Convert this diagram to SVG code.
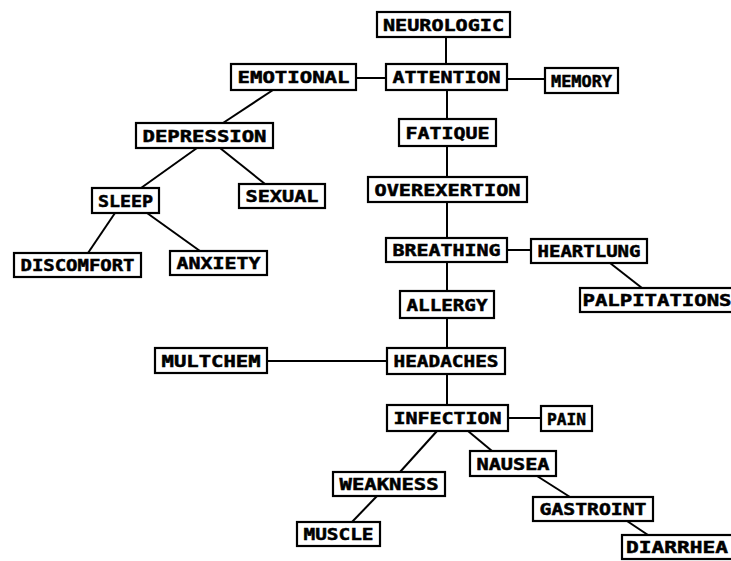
<svg xmlns="http://www.w3.org/2000/svg" width="731" height="561" viewBox="0 0 731 561">
<style>
.b{fill:#fff;stroke:#000;stroke-width:2.2}
.t{font-family:"DejaVu Sans Mono","Liberation Mono",monospace;font-weight:bold;font-size:16px;fill:#000;stroke:#000;stroke-width:0.5;text-anchor:middle}
.c line{stroke:#000;stroke-width:2}
</style>
<rect width="731" height="561" fill="#fff"/>
<g id="connectors" class="c">
<line x1="446" y1="37" x2="446" y2="64"/>
<line x1="356" y1="78" x2="386" y2="78"/>
<line x1="507" y1="79" x2="545" y2="79"/>
<line x1="447" y1="90" x2="447" y2="119"/>
<line x1="447" y1="146" x2="447" y2="177"/>
<line x1="447" y1="202" x2="447" y2="238"/>
<line x1="507" y1="250" x2="531" y2="250"/>
<line x1="447" y1="262" x2="447" y2="291"/>
<line x1="447" y1="318" x2="447" y2="348"/>
<line x1="267" y1="361" x2="387" y2="361"/>
<line x1="447" y1="374" x2="447" y2="405"/>
<line x1="508" y1="418" x2="541" y2="418"/>
<line x1="273" y1="90" x2="223" y2="123"/>
<line x1="197" y1="148" x2="141" y2="188"/>
<line x1="220" y1="148" x2="265" y2="184"/>
<line x1="115" y1="213" x2="88" y2="253"/>
<line x1="147" y1="213" x2="200" y2="251"/>
<line x1="610" y1="263" x2="642" y2="288"/>
<line x1="437" y1="431" x2="400" y2="472"/>
<line x1="468" y1="431" x2="492" y2="451"/>
<line x1="377" y1="496" x2="352" y2="522"/>
<line x1="537" y1="476" x2="570" y2="497"/>
<line x1="627" y1="521" x2="648" y2="535"/>
</g>
<g id="neurologic"><rect class="b" x="377" y="12" width="133" height="25"/><text class="t" x="443.5" y="30.5" textLength="121" lengthAdjust="spacingAndGlyphs">NEUROLOGIC</text></g>
<g id="attention"><rect class="b" x="386" y="64" width="121" height="26"/><text class="t" x="446.5" y="83" textLength="108" lengthAdjust="spacingAndGlyphs">ATTENTION</text></g>
<g id="emotional"><rect class="b" x="231" y="64" width="125" height="26"/><text class="t" x="293.5" y="83" textLength="112" lengthAdjust="spacingAndGlyphs">EMOTIONAL</text></g>
<g id="memory"><rect class="b" x="545" y="68" width="73" height="25"/><text class="t" x="581.5" y="86.5" textLength="61" lengthAdjust="spacingAndGlyphs">MEMORY</text></g>
<g id="fatique"><rect class="b" x="399" y="119" width="97" height="27"/><text class="t" x="447.5" y="138.5" textLength="84" lengthAdjust="spacingAndGlyphs">FATIQUE</text></g>
<g id="depression"><rect class="b" x="136" y="123" width="137" height="25"/><text class="t" x="204.5" y="141.5" textLength="124" lengthAdjust="spacingAndGlyphs">DEPRESSION</text></g>
<g id="sleep"><rect class="b" x="92" y="188" width="67" height="25"/><text class="t" x="125.5" y="206.5" textLength="55" lengthAdjust="spacingAndGlyphs">SLEEP</text></g>
<g id="sexual"><rect class="b" x="239" y="184" width="86" height="24"/><text class="t" x="282" y="202" textLength="73" lengthAdjust="spacingAndGlyphs">SEXUAL</text></g>
<g id="overexertion"><rect class="b" x="368" y="177" width="159" height="25"/><text class="t" x="447.5" y="195.5" textLength="146" lengthAdjust="spacingAndGlyphs">OVEREXERTION</text></g>
<g id="discomfort"><rect class="b" x="14" y="253" width="127" height="24"/><text class="t" x="77.5" y="271" textLength="114" lengthAdjust="spacingAndGlyphs">DISCOMFORT</text></g>
<g id="anxiety"><rect class="b" x="170" y="251" width="97" height="24"/><text class="t" x="218.5" y="269" textLength="84" lengthAdjust="spacingAndGlyphs">ANXIETY</text></g>
<g id="breathing"><rect class="b" x="386" y="238" width="121" height="24"/><text class="t" x="446.5" y="256" textLength="108" lengthAdjust="spacingAndGlyphs">BREATHING</text></g>
<g id="heartlung"><rect class="b" x="531" y="239" width="116" height="24"/><text class="t" x="589" y="257" textLength="103" lengthAdjust="spacingAndGlyphs">HEARTLUNG</text></g>
<g id="palpitations"><rect class="b" x="580" y="288" width="158" height="24"/><text class="t" x="657" y="306" textLength="149" lengthAdjust="spacingAndGlyphs">PALPITATIONS</text></g>
<g id="allergy"><rect class="b" x="400" y="291" width="94" height="27"/><text class="t" x="447" y="310.5" textLength="81" lengthAdjust="spacingAndGlyphs">ALLERGY</text></g>
<g id="multchem"><rect class="b" x="155" y="348" width="112" height="25"/><text class="t" x="211" y="366.5" textLength="99" lengthAdjust="spacingAndGlyphs">MULTCHEM</text></g>
<g id="headaches"><rect class="b" x="387" y="348" width="118" height="26"/><text class="t" x="446" y="367" textLength="105" lengthAdjust="spacingAndGlyphs">HEADACHES</text></g>
<g id="infection"><rect class="b" x="387" y="405" width="121" height="26"/><text class="t" x="447.5" y="424" textLength="108" lengthAdjust="spacingAndGlyphs">INFECTION</text></g>
<g id="pain"><rect class="b" x="541" y="406" width="51" height="25"/><text class="t" x="566.5" y="424.5" textLength="39" lengthAdjust="spacingAndGlyphs">PAIN</text></g>
<g id="nausea"><rect class="b" x="470" y="451" width="86" height="25"/><text class="t" x="513" y="469.5" textLength="73" lengthAdjust="spacingAndGlyphs">NAUSEA</text></g>
<g id="weakness"><rect class="b" x="333" y="472" width="112" height="24"/><text class="t" x="389" y="490" textLength="99" lengthAdjust="spacingAndGlyphs">WEAKNESS</text></g>
<g id="gastroint"><rect class="b" x="533" y="497" width="120" height="24"/><text class="t" x="593" y="515" textLength="107" lengthAdjust="spacingAndGlyphs">GASTROINT</text></g>
<g id="muscle"><rect class="b" x="297" y="522" width="83" height="24"/><text class="t" x="338.5" y="540" textLength="70" lengthAdjust="spacingAndGlyphs">MUSCLE</text></g>
<g id="diarrhea"><rect class="b" x="622" y="535" width="113" height="24"/><text class="t" x="677" y="553" textLength="102" lengthAdjust="spacingAndGlyphs">DIARRHEA</text></g>
</svg>
